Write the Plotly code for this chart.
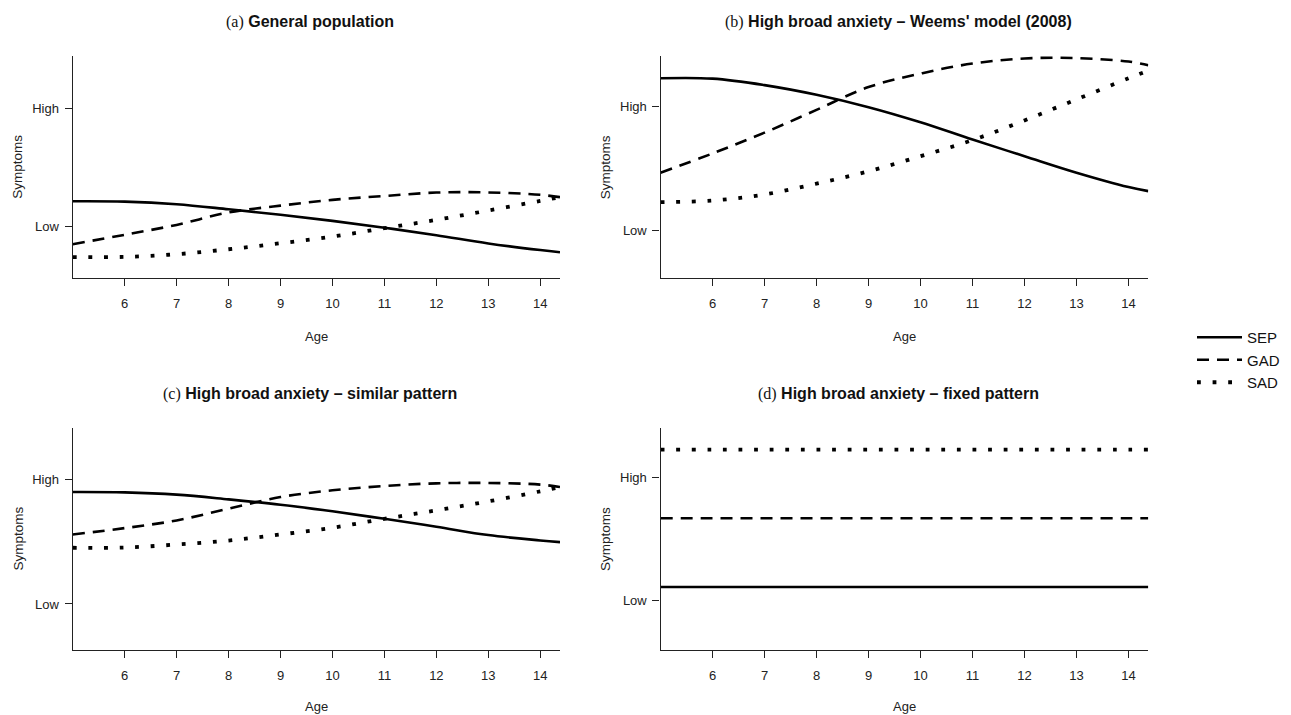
import plotly.graph_objects as go

# ---------------- data ----------------
age = [5.0, 6, 7, 8, 9, 10, 11, 12, 13, 14, 14.38]
series_names = ["SEP", "GAD", "SAD"]

a_sep = [0.215, 0.212, 0.19, 0.147, 0.100, 0.048, -0.010, -0.074, -0.144, -0.200, -0.218]
a_gad = [-0.150, -0.070, 0.014, 0.120, 0.178, 0.227, 0.260, 0.289, 0.290, 0.270, 0.250]
a_sad = [-0.260, -0.258, -0.235, -0.193, -0.142, -0.085, -0.014, 0.057, 0.136, 0.218, 0.250]

b_sep = [1.225, 1.222, 1.170, 1.092, 0.992, 0.870, 0.730, 0.596, 0.463, 0.347, 0.314]
b_gad = [0.463, 0.618, 0.786, 0.970, 1.154, 1.263, 1.344, 1.385, 1.388, 1.360, 1.330]
b_sad = [0.225, 0.238, 0.287, 0.374, 0.474, 0.596, 0.726, 0.885, 1.055, 1.225, 1.287]

c_sep = [0.900, 0.897, 0.879, 0.841, 0.798, 0.745, 0.685, 0.621, 0.554, 0.511, 0.497]
c_gad = [0.559, 0.610, 0.672, 0.766, 0.860, 0.914, 0.949, 0.970, 0.973, 0.960, 0.940]
c_sad = [0.452, 0.454, 0.478, 0.510, 0.559, 0.613, 0.685, 0.753, 0.825, 0.906, 0.940]

d_sep = [0.111] * len(age)
d_gad = [0.668] * len(age)
d_sad = [1.225] * len(age)

panel_labels = ["(a)", "(b)", "(c)", "(d)"]
panel_titles = ["General population",
                "High broad anxiety \u2013 Weems' model (2008)",
                "High broad anxiety \u2013 similar pattern",
                "High broad anxiety \u2013 fixed pattern"]
x_ticks = [6, 7, 8, 9, 10, 11, 12, 13, 14]
y_tickvals = [0, 1]
y_ticktext = ["Low", "High"]
x_title = "Age"
y_title = "Symptoms"

panel_data = [(a_sep, a_gad, a_sad), (b_sep, b_gad, b_sad),
              (c_sep, c_gad, c_sad), (d_sep, d_gad, d_sad)]

# ---------------- layout geometry ----------------
W, H = 1291, 715
x_doms = [(72.7 / W, 560.0 / W), (660.5 / W, 1148.3 / W)]
y_doms = [(1 - 278.3 / H, 1 - 56.0 / H), (1 - 650.0 / H, 1 - 428.0 / H)]
y_ranges = [[-0.44, 1.45], [-0.39, 1.405], [-0.37, 1.415], [-0.40, 1.40]]
x_range = [5.0, 14.38]

styles = [dict(color="black", width=2.6),
          dict(color="black", width=2.6, dash="12px,8px"),
          dict(color="black", width=3.8, dash="3.8px,11.8px")]

FONT = "Liberation Sans, Arial, Helvetica, sans-serif"
fig = go.Figure()
annotations = []

for i in range(4):
    row, col = divmod(i, 2)
    xa = "x" if i == 0 else f"x{i+1}"
    ya = "y" if i == 0 else f"y{i+1}"
    for s in range(3):
        fig.add_trace(go.Scatter(
            x=age, y=panel_data[i][s], mode="lines",
            line=dict(shape="spline", smoothing=1.0, **styles[s]),
            name=series_names[s], legendgroup=series_names[s],
            showlegend=(i == 0), xaxis=xa, yaxis=ya, hoverinfo="skip"))
    axis_common = dict(showline=True, linecolor="#222", linewidth=1.3,
                       ticks="outside", ticklen=7, tickwidth=1.3, tickcolor="#222",
                       showgrid=False, zeroline=False,
                       tickfont=dict(family=FONT, size=13, color="#222"))
    xkey = "xaxis" if i == 0 else f"xaxis{i+1}"
    ykey = "yaxis" if i == 0 else f"yaxis{i+1}"
    fig.update_layout({
        xkey: dict(domain=x_doms[col], range=x_range, anchor=ya,
                   tickvals=x_ticks, ticklabelstandoff=6, **axis_common),
        ykey: dict(domain=y_doms[row], range=y_ranges[i], anchor=xa,
                   tickvals=y_tickvals, ticktext=y_ticktext,
                   ticklabelstandoff=3, **axis_common),
    })
    xc = (x_doms[col][0] + x_doms[col][1]) / 2
    title_y = (1 - 22 / H) if row == 0 else (1 - 394 / H)
    annotations.append(dict(
        x=xc - 6 / W, y=title_y, xref="paper", yref="paper", showarrow=False,
        xanchor="center", yanchor="middle",
        text=f"<span style='font-family:Liberation Serif, Times New Roman, serif;font-weight:normal'>{panel_labels[i]}</span> <b>{panel_titles[i]}</b>",
        font=dict(family=FONT, size=16, color="#111")))
    age_y = (1 - 336 / H) if row == 0 else (1 - 706 / H)
    annotations.append(dict(
        x=xc, y=age_y, xref="paper", yref="paper", showarrow=False,
        xanchor="center", yanchor="middle", text=x_title,
        font=dict(family=FONT, size=13, color="#222")))
    sym_x = (17.5 / W) if col == 0 else (605 / W)
    annotations.append(dict(
        x=sym_x, y=(y_doms[row][0] + y_doms[row][1]) / 2, xref="paper", yref="paper",
        showarrow=False, xanchor="center", yanchor="middle", textangle=-90,
        text=y_title, font=dict(family=FONT, size=13.5, color="#222")))

fig.update_layout(
    width=W, height=H, margin=dict(l=0, r=0, t=0, b=0),
    paper_bgcolor="white", plot_bgcolor="white",
    annotations=annotations,
    showlegend=True,
    legend=dict(x=1192 / W, y=1 - 321 / H, xanchor="left", yanchor="top",
                font=dict(family=FONT, size=15, color="#111"),
                bgcolor="rgba(0,0,0,0)", tracegroupgap=0, itemwidth=45),
)

fig.write_html("out.html", config={"displayModeBar": False},
               post_script="document.body.style.margin='0';document.body.style.overflow='hidden';")
